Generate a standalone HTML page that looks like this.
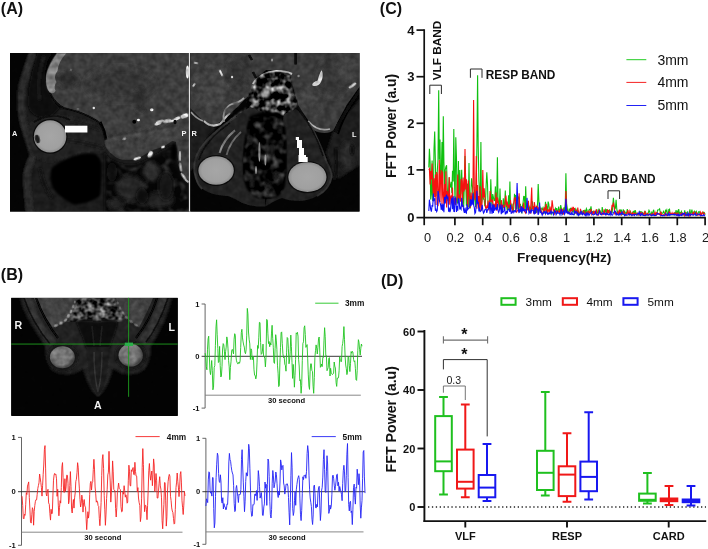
<!DOCTYPE html>
<html><head><meta charset="utf-8"><title>Figure</title>
<style>
html,body{margin:0;padding:0;background:#fff;}
body{width:708px;height:549px;overflow:hidden;}
svg{display:block;font-family:"Liberation Sans", sans-serif;}
.b{font-weight:bold;}
</style></head><body>
<svg width="708" height="549" viewBox="0 0 708 549">
<defs>
<filter id="bl1" x="-20%" y="-20%" width="140%" height="140%"><feGaussianBlur stdDeviation="1"/></filter>
<filter id="bl2" x="-20%" y="-20%" width="140%" height="140%"><feGaussianBlur stdDeviation="2"/></filter>
<filter id="bl3" x="-20%" y="-20%" width="140%" height="140%"><feGaussianBlur stdDeviation="3.5"/></filter>
<filter id="bl05" x="-20%" y="-20%" width="140%" height="140%"><feGaussianBlur stdDeviation="0.6"/></filter>
<filter id="tex" x="0" y="0" width="100%" height="100%" color-interpolation-filters="sRGB"><feTurbulence type="fractalNoise" baseFrequency="0.16" numOctaves="2" seed="5" result="n"/><feColorMatrix in="n" type="matrix" values="1 0 0 0 0  1 0 0 0 0  1 0 0 0 0  0 0 0 0 1" result="ng"/><feComposite in="SourceGraphic" in2="ng" operator="arithmetic" k1="0.7" k2="0.66" k3="0" k4="0"/></filter>
<filter id="blotch" x="0" y="0" width="100%" height="100%" color-interpolation-filters="sRGB"><feTurbulence type="fractalNoise" baseFrequency="0.14" numOctaves="2" seed="14" result="n"/><feColorMatrix in="n" type="matrix" values="2.2 0 0 0 -0.95  2.2 0 0 0 -0.95  2.2 0 0 0 -0.95  0 0 0 0 1" result="c"/><feGaussianBlur in="SourceGraphic" stdDeviation="0.8" result="sb"/><feComposite in="c" in2="sb" operator="in"/></filter>
<filter id="blotch2" x="0" y="0" width="100%" height="100%" color-interpolation-filters="sRGB"><feTurbulence type="fractalNoise" baseFrequency="0.11" numOctaves="2" seed="23" result="n"/><feColorMatrix in="n" type="matrix" values="0.8 0 0 0 -0.35  0.8 0 0 0 -0.35  0.8 0 0 0 -0.35  0 0 0 0 1" result="c"/><feGaussianBlur in="SourceGraphic" stdDeviation="1.2" result="sb"/><feComposite in="c" in2="sb" operator="in"/></filter>
<filter id="blotchB" x="0" y="0" width="100%" height="100%" color-interpolation-filters="sRGB"><feTurbulence type="fractalNoise" baseFrequency="0.16" numOctaves="2" seed="31" result="n"/><feColorMatrix in="n" type="matrix" values="1.5 0 0 0 -0.5  1.5 0 0 0 -0.5  1.5 0 0 0 -0.5  0 0 0 0 1" result="c"/><feGaussianBlur in="SourceGraphic" stdDeviation="0.8" result="sb"/><feComposite in="c" in2="sb" operator="in"/></filter>
<clipPath id="cA1"><rect x="10" y="53" width="179.4" height="158.5"/></clipPath>
<clipPath id="cA2"><rect x="190.5" y="53" width="169" height="158.5"/></clipPath>
<clipPath id="cB"><rect x="11.4" y="298" width="166.3" height="118"/></clipPath>
<radialGradient id="eye" cx="50%" cy="50%" r="50%"><stop offset="0" stop-color="#a6a6a6"/><stop offset="0.8" stop-color="#a0a0a0"/><stop offset="1" stop-color="#8c8c8c"/></radialGradient>
<radialGradient id="eyeB" cx="42%" cy="38%" r="58%"><stop offset="0" stop-color="#7c7c7c"/><stop offset="0.8" stop-color="#6c6c6c"/><stop offset="1" stop-color="#444"/></radialGradient>
</defs>
<rect width="708" height="549" fill="#fff"/>

<text x="0.8" y="14.4" font-size="16" class="b" fill="#111">(A)</text>
<text x="0.8" y="279.8" font-size="16" class="b" fill="#111">(B)</text>
<text x="379.8" y="14.4" font-size="16" class="b" fill="#111">(C)</text>
<text x="381" y="286.2" font-size="16" class="b" fill="#111">(D)</text>
<g id="mriA">
<rect x="10" y="53" width="349.5" height="158.5" fill="#040404"/>
<g clip-path="url(#cA1)"><g filter="url(#tex)">
<rect x="10" y="53" width="180" height="159" fill="#040404"/>
<path d="M29 53 C22 70 16 88 16.5 101 C17 112 19 122 22 130 C26 140 30 148 31 154 C26 162 23 170 23 177 C23 190 25 200 25.6 212 L190 212 L190 112 L60 108 C50 100 40 80 42 53 Z" fill="#1a1a1a" filter="url(#bl1)"/>
<path d="M37 53 C31 72 27 92 28 106 C30 116 40 120 52 116 L60 108 C50 98 44 84 46 70 C47 62 50 57 53 53 Z" fill="#070707" filter="url(#bl1)"/>
<path d="M44 56 C39 72 37 88 40 100" fill="none" stroke="#1c1c1c" stroke-width="3" filter="url(#bl1)"/>
<path d="M33 52 C27 70 21 88 21 101 C21 112 23 122 26 132 C28 140 32 148 33 156 C29 164 27 172 27 180 C27 192 29 202 30 213" fill="none" stroke="#2b2b2b" stroke-width="7" filter="url(#bl1)"/>
<path d="M56.6 53 C50 62 45.7 70 45.7 79 C45.7 86 47 90 49.4 92.3 C52 98 55 103 59.6 106 C66 109 72 110 78.5 111 C86 114 94 119 100 123 C104 127 106 130 106 134 C104 138 104 142 105 145 C107 150 109 152 112 154 C115 157 118 159 122.5 159.8 L134.6 159.8 C140 158 146 154 150 151 C155 149 159 148 163 147 C167 145 170 142 172.7 140.8 L176 142 C176 150 177 156 178 160 C179 168 181 174 184 178 L190 183 L190 53 Z" fill="#3d3d3d" filter="url(#bl05)"/>
<path d="M57 53.5 C51 62 46 71 46 79 C46 85 47.5 90 50 92.5 C52.5 94 55 93 55.5 90.5 C54 88 54.5 85 56.5 82 C54 78 55 74 57.5 71 C58 65 61 59 66 53.5 Z" fill="#7e7e7e" filter="url(#bl05)"/>
<ellipse cx="68" cy="80" rx="10" ry="7" fill="#2c2c2c" filter="url(#bl2)"/>
<ellipse cx="120" cy="84" rx="34" ry="16" fill="#343434" filter="url(#bl3)"/>
<ellipse cx="100" cy="98" rx="6" ry="5" fill="#484848" filter="url(#bl2)"/>
<ellipse cx="140" cy="100" rx="5" ry="12" fill="#2c2c2c" filter="url(#bl2)"/>
<ellipse cx="160" cy="134" rx="24" ry="6" fill="#444" filter="url(#bl2)"/>
<ellipse cx="128" cy="148" rx="16" ry="8" fill="#404040" filter="url(#bl2)"/>
<path d="M100 122 C103 128 105 134 106 140" fill="none" stroke="#060606" stroke-width="3.2" filter="url(#bl05)"/>
<path d="M108 138 C120 134 150 132 176 126" fill="none" stroke="#2a2a2a" stroke-width="2" filter="url(#bl1)"/>
<path d="M50 93 C54 101 58 105 64 108 C72 110 80 112 88 116 C94 119 98 121 101 124" fill="none" stroke="#080808" stroke-width="1.6" filter="url(#bl05)"/>
<ellipse cx="71" cy="70" rx="1.0" ry="1.3" fill="#707070" filter="url(#bl05)" transform="rotate(30 71 70)"/>
<ellipse cx="78" cy="109" rx="1.5" ry="0.8" fill="#707070" filter="url(#bl05)"/>
<ellipse cx="93.8" cy="108" rx="1.2" ry="1.2" fill="#dcdcdc" filter="url(#bl05)"/>
<ellipse cx="151.7" cy="109.8" rx="1.75" ry="1.5" fill="#dcdcdc" filter="url(#bl05)"/>
<ellipse cx="138.5" cy="120" rx="1.5" ry="1.25" fill="#dcdcdc" filter="url(#bl05)"/>
<ellipse cx="158" cy="123.5" rx="3.5" ry="1.5" fill="#dcdcdc" filter="url(#bl05)" transform="rotate(-20 158 123.5)"/>
<ellipse cx="167" cy="121" rx="4.0" ry="1.7" fill="#dcdcdc" filter="url(#bl05)" transform="rotate(-12 167 121)"/>
<ellipse cx="177" cy="118.5" rx="3.5" ry="1.5" fill="#dcdcdc" filter="url(#bl05)" transform="rotate(-25 177 118.5)"/>
<ellipse cx="184.5" cy="116" rx="4.0" ry="2.25" fill="#dcdcdc" filter="url(#bl05)" transform="rotate(-20 184.5 116)"/>
<ellipse cx="187.5" cy="72" rx="1.75" ry="6.5" fill="#dcdcdc" filter="url(#bl05)"/>
<ellipse cx="124.2" cy="138.2" rx="1.75" ry="1.5" fill="#dcdcdc" filter="url(#bl05)" transform="rotate(-30 124.2 138.2)"/>
<ellipse cx="137.2" cy="158.4" rx="3.75" ry="1.2" fill="#dcdcdc" filter="url(#bl05)" transform="rotate(-18 137.2 158.4)"/>
<ellipse cx="150.2" cy="154.6" rx="2.25" ry="3.75" fill="#dcdcdc" filter="url(#bl05)" transform="rotate(25 150.2 154.6)"/>
<ellipse cx="163" cy="147" rx="2.0" ry="1.2" fill="#dcdcdc" filter="url(#bl05)" transform="rotate(-20 163 147)"/>
<ellipse cx="160" cy="121.5" rx="4.0" ry="1.2" fill="#dcdcdc" filter="url(#bl05)" transform="rotate(-15 160 121.5)"/>
<ellipse cx="172" cy="121" rx="3.5" ry="1.2" fill="#dcdcdc" filter="url(#bl05)" transform="rotate(-10 172 121)"/>
<ellipse cx="179.6" cy="157" rx="1.2" ry="5.0" fill="#8c8c8c" filter="url(#bl05)"/>
<ellipse cx="180.5" cy="168" rx="1.2" ry="4.5" fill="#8c8c8c" filter="url(#bl05)" transform="rotate(-10 180.5 168)"/>
<ellipse cx="184" cy="177" rx="1.2" ry="4.0" fill="#8c8c8c" filter="url(#bl05)" transform="rotate(-35 184 177)"/>
<circle cx="134.3" cy="121.7" r="2" fill="#050505" filter="url(#bl05)"/>
<ellipse cx="175" cy="122" rx="1.6" ry="2.2" fill="#0a0a0a"/>
<path d="M30 124 C36 118 50 114 62 116 C76 118 92 122 100 126 C103 132 105 140 104 146 C106 150 108 152 110 154 C100 152 90 152 80 154 C70 158 60 160 50 162 C42 160 34 158 31 154 C28 146 26 136 30 124 Z" fill="#242424" filter="url(#bl1)"/>
<path d="M34 122 C44 115 58 114 70 120" fill="none" stroke="#0c0c0c" stroke-width="1.6" filter="url(#bl05)"/>
<path d="M66 140 C78 142 92 144 104 148" fill="none" stroke="#161616" stroke-width="2" filter="url(#bl1)"/>
<path d="M66 121 C78 122 90 126 100 130" fill="none" stroke="#161616" stroke-width="1.6" filter="url(#bl1)"/>
<circle cx="50.1" cy="136.4" r="17.4" fill="#0b0b0b"/>
<path d="M51.5 168.4 C58 162 70 157 79.2 154.6 C85 153.5 90 153.4 94.8 153.7 C99 156 101 160 101.7 165 C102 176 101 188 100 196 C94 201 84 204 74 204.8 C66 201 58 195 53.3 189 C50 182 50 174 51.5 168.4 Z" fill="#050505" filter="url(#bl1)"/>
<path d="M40 168 C42 180 46 190 52 198" fill="none" stroke="#141414" stroke-width="3" filter="url(#bl1)"/>
<path d="M104 150 C108 160 120 166 136 164 C146 160 156 154 170 146 L176 146 C176 160 180 174 190 184 L190 212 L104 212 Z" fill="#111" filter="url(#bl1)"/>
<path d="M106 156 C112 164 124 168 138 166 C148 162 158 156 172 150 C174 164 178 176 186 186 L190 212 L106 212 Z" fill="#fff" opacity="0.55" filter="url(#blotch2)"/>
<ellipse cx="174" cy="152" rx="3" ry="9" fill="#050505" filter="url(#bl1)"/>
<ellipse cx="152" cy="172" rx="9" ry="9" fill="#2e2e2e" filter="url(#bl2)"/>
<ellipse cx="130" cy="188" rx="14" ry="13" fill="#262626" filter="url(#bl2)"/>
<ellipse cx="160" cy="200" rx="14" ry="8" fill="#222" filter="url(#bl2)"/>
<ellipse cx="116" cy="204" rx="8" ry="6" fill="#202020" filter="url(#bl2)"/>
<ellipse cx="112" cy="172" rx="5" ry="10" fill="#0c0c0c" filter="url(#bl2)"/>
<ellipse cx="142" cy="196" rx="6" ry="8" fill="#0c0c0c" filter="url(#bl2)"/>
<ellipse cx="166" cy="186" rx="8" ry="14" fill="#141414" filter="url(#bl2)"/>
<path d="M178 150 C178 162 181 172 190 182 L190 140 C186 140 180 142 178 150 Z" fill="#3a3a3a" filter="url(#bl05)"/>
<ellipse cx="180" cy="156" rx="1.1" ry="5.0" fill="#b0b0b0" filter="url(#bl05)"/>
<ellipse cx="180.6" cy="167" rx="1.1" ry="4.5" fill="#b0b0b0" filter="url(#bl05)" transform="rotate(-8 180.6 167)"/>
<ellipse cx="183.5" cy="176.5" rx="1.1" ry="4.5" fill="#b0b0b0" filter="url(#bl05)" transform="rotate(-35 183.5 176.5)"/>
<ellipse cx="187" cy="181" rx="1.1" ry="2.5" fill="#b0b0b0" filter="url(#bl05)" transform="rotate(-50 187 181)"/>
<path d="M106 141 C120 136 150 133 176 128" fill="none" stroke="#4a4a4a" stroke-width="3" filter="url(#bl1)"/>
</g>
<circle cx="50.1" cy="136.4" r="16.2" fill="url(#eye)" filter="url(#bl05)"/>
<ellipse cx="37.4" cy="139" rx="2.3" ry="4.2" fill="#1a1a1a" transform="rotate(-14 37.4 139)" filter="url(#bl05)"/>
<rect x="65" y="125.7" width="22.4" height="6.8" fill="#fff"/>
</g>
<g clip-path="url(#cA2)"><g filter="url(#tex)">
<rect x="190" y="53" width="170" height="159" fill="#040404"/>
<path d="M190 104 L206 120 L216 128 C204 140 198 154 196 166 L190 172 Z" fill="#1a1a1a" filter="url(#bl1)"/>
<path d="M334 128 C344 118 352 108 360 98 L360 165 C352 170 346 174 340 178 L333 178 C332 168 328 160 326 152 Z" fill="#1c1c1c" filter="url(#bl1)"/>
<ellipse cx="348" cy="156" rx="7" ry="14" fill="#2c2c2c" filter="url(#bl2)"/>
<path d="M352 104 C346 114 341 124 338 134" fill="none" stroke="#060606" stroke-width="2" filter="url(#bl05)"/>
<path d="M336 148 C338 158 338 170 334 180" fill="none" stroke="#0a0a0a" stroke-width="4" filter="url(#bl1)"/>
<ellipse cx="352" cy="150" rx="2" ry="6" fill="#0a0a0a" filter="url(#bl1)"/>
<path d="M190 53 L360 53 L360 86 L346.6 105 L333.5 130 C330 134 320 134 313 130 L308 120 L300 108 L292 95 L290 72 L266 70 L255 79 L250.6 93.7 L236 108.3 L223 120 L214 125.8 L204 121.4 L190 108 Z" fill="#3b3b3b" filter="url(#bl05)"/>
<path d="M360 90 C352 102 342 116 335 132" fill="none" stroke="#080808" stroke-width="3.5" filter="url(#bl05)"/>
<ellipse cx="212" cy="88" rx="16" ry="20" fill="#424242" filter="url(#bl3)"/>
<ellipse cx="238" cy="72" rx="10" ry="14" fill="#333" filter="url(#bl3)"/>
<ellipse cx="332" cy="78" rx="14" ry="18" fill="#343434" filter="url(#bl3)"/>
<ellipse cx="310" cy="100" rx="10" ry="12" fill="#424242" filter="url(#bl3)"/>
<ellipse cx="346" cy="70" rx="8" ry="10" fill="#444" filter="url(#bl3)"/>
<path d="M256 78 C262 72 276 70 290 74 C292 84 294 94 298 104 L292 112 L284 116 L262 114 L250 108 L246 100 C250 94 254 84 256 78 Z" fill="#080808" filter="url(#bl05)"/>
<path d="M253 84 C258 76 266 72 276 71 C282 71 288 72 292 74" fill="none" stroke="#c8c8c8" stroke-width="2.2" filter="url(#bl05)"/>
<path d="M204 121 C208 125 214 127 220 124 C224 120 226 116 230 113" fill="none" stroke="#b4b4b4" stroke-width="2" filter="url(#bl05)"/>
<path d="M224 122 C222 114 226 106 232 104 C238 103 242 100 244 98" fill="none" stroke="#9a9a9a" stroke-width="1.8" filter="url(#bl05)"/>
<path d="M191 112 C194 116 198 119 203 121" fill="none" stroke="#8a8a8a" stroke-width="1.6" filter="url(#bl05)"/>
<path d="M308 121 C314 128 322 131 330 129" fill="none" stroke="#a0a0a0" stroke-width="1.8" filter="url(#bl05)"/>
<path d="M256 78 C262 72 276 70 290 74 C292 84 294 94 298 104 L292 112 L284 116 L262 114 L250 108 L246 100 C250 94 254 84 256 78 Z" fill="#fff" filter="url(#blotch)"/>
<path d="M250 106 C242 110 234 116 226 124 L232 128 C240 122 248 116 258 112 Z" fill="#fff" filter="url(#blotch)"/>
<ellipse cx="266" cy="93" rx="3.5" ry="4.5" fill="#b0b0b0" filter="url(#bl1)" transform="rotate(20 266 93)"/>
<ellipse cx="268" cy="103" rx="2.5" ry="2.0" fill="#b0b0b0" filter="url(#bl1)"/>
<ellipse cx="228" cy="111" rx="4.0" ry="3.0" fill="#4c4c4c" filter="url(#bl1)"/>
<ellipse cx="236" cy="104" rx="3.0" ry="2.5" fill="#4c4c4c" filter="url(#bl1)"/>
<ellipse cx="221" cy="73" rx="1.0" ry="3.5" fill="#d4d4d4" filter="url(#bl05)" transform="rotate(-25 221 73)"/>
<ellipse cx="232" cy="77" rx="1.2" ry="1.2" fill="#d4d4d4" filter="url(#bl05)"/>
<ellipse cx="194" cy="85" rx="1.0" ry="2.0" fill="#d4d4d4" filter="url(#bl05)" transform="rotate(35 194 85)"/>
<ellipse cx="196" cy="63" rx="2.5" ry="0.8" fill="#d4d4d4" filter="url(#bl05)" transform="rotate(10 196 63)"/>
<ellipse cx="352.5" cy="85.5" rx="4.5" ry="1.2" fill="#d4d4d4" filter="url(#bl05)" transform="rotate(-35 352.5 85.5)"/>
<ellipse cx="298.5" cy="76" rx="1.2" ry="1.2" fill="#8c8c8c" filter="url(#bl05)"/>
<ellipse cx="272" cy="60" rx="1.0" ry="1.5" fill="#8c8c8c" filter="url(#bl05)"/>
<path d="M321.6 70.2 C323.4 73 323 78 321 82 C319.4 85.4 315 87 312.4 85.4 C311.8 83 314.6 81.4 317.6 80.4 C318.8 77 319.4 73 321.6 70.2 Z" fill="#d2d2d2" filter="url(#bl05)"/>
<path d="M249 55 L252 60 M295.6 53 L295.6 64.6" stroke="#080808" stroke-width="2.4" filter="url(#bl05)"/>
<path d="M253 72 L256 78" stroke="#080808" stroke-width="2.4" filter="url(#bl05)"/>
<path d="M262 112 L250 107 C244 110 240 114 236 117 C228 122 222 126 219.6 128.6 C208 138 200 148 197 154.6 C194 162 194 168 194.5 172 C196 180 199 186 202.3 189 C210 194 220 196 228 196 C234 198 238 201 242 203 C250 206 258 207 265 206.5 L266 118 Z" fill="#202020" filter="url(#bl05)"/>
<path d="M284 114 L296 109 C300 112 304 117 308 122 C311 127 313 131 315 134 C320 144 324 154 327 163 C330 168 331.6 172 331.6 177 C330 186 324 192 317 196 C312 199 306 200.5 299.6 201 C292 201 286 200 282 198 C276 200 270 204 265 206.5 Z" fill="#202020" filter="url(#bl05)"/>
<path d="M236 117 C228 122 222 126 219.6 128.6 C208 138 200 148 197 154.6 C194 162 194 168 194.5 172 C196 180 199 186 202.3 189" fill="none" stroke="#303030" stroke-width="2" filter="url(#bl05)"/>
<path d="M308 122 C312 128 314 132 315 134 C320 144 324 154 327 163 C330 168 331.6 172 331.6 177 C330 186 324 192 317 196" fill="none" stroke="#303030" stroke-width="2" filter="url(#bl05)"/>
<path d="M230 123 C214 134 202 148 199 160" fill="none" stroke="#0a0a0a" stroke-width="1.4" filter="url(#bl05)"/>
<path d="M300 112 C310 124 318 140 323 156" fill="none" stroke="#0e0e0e" stroke-width="1.4" filter="url(#bl05)"/>
<path d="M250 116 C246 130 243 150 243 168 C243 182 248 194 258 198 C268 200 278 198 283 190 C287 180 287 150 285 130 C284 122 282 116 278 112 L262 112 Z" fill="#020202" filter="url(#bl1)"/>
<path d="M250 118 C246 130 243 150 243 168 C243 182 248 194 258 198 C268 200 278 198 283 190 C287 180 287 150 285 130 C284 124 282 120 278 116 Z" fill="#fff" filter="url(#blotch2)"/>
<ellipse cx="259.4" cy="152" rx="1.1" ry="10.0" fill="#8a8a8a" filter="url(#bl05)"/>
<ellipse cx="265.4" cy="160" rx="1.0" ry="5.5" fill="#8a8a8a" filter="url(#bl05)"/>
<ellipse cx="256" cy="170" rx="1.0" ry="4.0" fill="#8a8a8a" filter="url(#bl05)"/>
<ellipse cx="250" cy="140" rx="2.0" ry="5.0" fill="#1c1c1c" filter="url(#bl1)"/>
<ellipse cx="272" cy="150" rx="2.5" ry="6.0" fill="#1c1c1c" filter="url(#bl1)"/>
<ellipse cx="276" cy="176" rx="3.0" ry="5.0" fill="#1c1c1c" filter="url(#bl1)"/>
<ellipse cx="252" cy="184" rx="2.5" ry="4.0" fill="#1c1c1c" filter="url(#bl1)"/>
<ellipse cx="268" cy="186" rx="3.0" ry="3.0" fill="#1c1c1c" filter="url(#bl1)"/>
<ellipse cx="280" cy="130" rx="2.0" ry="4.0" fill="#1c1c1c" filter="url(#bl1)"/>
<path d="M235 130.4 C228 136 222 144 219.6 153" fill="none" stroke="#7c7c7c" stroke-width="2" filter="url(#bl05)"/>
<path d="M241 132 C234 138 229 146 226.5 155" fill="none" stroke="#686868" stroke-width="1.8" filter="url(#bl05)"/>
<ellipse cx="216.1" cy="170.5" rx="18.9" ry="15.5" fill="#0c0c0c"/>
<ellipse cx="307.4" cy="177.1" rx="20.3" ry="16.1" fill="#0c0c0c"/>
</g>
<ellipse cx="216.1" cy="170.5" rx="17.7" ry="14.3" fill="url(#eye)" filter="url(#bl05)"/>
<ellipse cx="307.4" cy="177.1" rx="19.1" ry="14.9" fill="url(#eye)" filter="url(#bl05)"/>
<path d="M295.8 137 H299 V140 H302 V148 H304 V155 H306 V157 H307.7 V162 H298.5 V155 H299 V148 H297 V140 H295.8 Z" fill="#fff"/>
</g>
<rect x="188.9" y="53" width="1.2" height="158.5" fill="#e4e4e4"/>
<text x="12" y="136" font-size="7.4" class="b" fill="#f4f4f4">A</text>
<text x="181.5" y="136" font-size="7.4" class="b" fill="#f4f4f4">P</text>
<text x="191.6" y="136" font-size="7.4" class="b" fill="#f4f4f4">R</text>
<text x="352" y="137.4" font-size="7.4" class="b" fill="#f4f4f4">L</text>
</g>
<g id="mriB">
<rect x="11.2" y="297.8" width="166.5" height="117.8" fill="#030303"/>
<g clip-path="url(#cB)"><g filter="url(#tex)">
<rect x="11" y="297" width="167" height="119" fill="#030303"/>
<path d="M20 298 L172 298 C168 316 160 332 151 346 C151 356 149 364 144 370 C136 376 122 376 113 369 C110 380 105 392 98 397 C91 392 86 380 83 369 C74 376 60 376 52 370 C47 364 45 356 45 346 C36 332 24 316 20 298 Z" fill="#212121" filter="url(#bl1)"/>
<ellipse cx="62.4" cy="357.5" rx="15.5" ry="14" fill="#151515" filter="url(#bl1)"/>
<ellipse cx="130.7" cy="355.5" rx="15.5" ry="14" fill="#151515" filter="url(#bl1)"/>
<path d="M27 297 C33 316 43 332 53 343" fill="none" stroke="#323232" stroke-width="7" filter="url(#bl1)"/>
<path d="M164 297 C159 316 151 330 142 342" fill="none" stroke="#323232" stroke-width="7" filter="url(#bl1)"/>
<path d="M34 298 L78 298 C77 302 76 305 74 306.5 C72 312 70 317 68 320 C63 324 58 326 53 327.5 C46 318 39 308 34 298 Z" fill="#424242" filter="url(#bl05)"/>
<path d="M114 298 L153 298 C149 308 144 318 139 327.5 C133 324 127 319 122 314 C119 309 116 303 114 298 Z" fill="#404040" filter="url(#bl05)"/>
<ellipse cx="56" cy="308" rx="9" ry="7" fill="#444" filter="url(#bl2)"/>
<ellipse cx="136" cy="307" rx="9" ry="6" fill="#424242" filter="url(#bl2)"/>
<path d="M76 298 L116 298 C118 306 122 313 126 318 L118 322 C110 318 104 320 97 321 C90 320 84 318 76 322 L66 322 C70 316 74 308 76 298 Z" fill="#2e2e2e" filter="url(#bl05)"/>
<ellipse cx="56" cy="325.5" rx="2.0" ry="1.3" fill="#8e8e8e" filter="url(#bl05)" transform="rotate(-25 56 325.5)"/>
<ellipse cx="61" cy="323" rx="1.8" ry="1.5" fill="#8e8e8e" filter="url(#bl05)" transform="rotate(-30 61 323)"/>
<ellipse cx="65.5" cy="320" rx="2.0" ry="1.3" fill="#8e8e8e" filter="url(#bl05)" transform="rotate(-40 65.5 320)"/>
<ellipse cx="68.5" cy="316" rx="1.5" ry="2.0" fill="#8e8e8e" filter="url(#bl05)" transform="rotate(20 68.5 316)"/>
<ellipse cx="71" cy="311.5" rx="1.3" ry="2.0" fill="#8e8e8e" filter="url(#bl05)" transform="rotate(15 71 311.5)"/>
<ellipse cx="73.5" cy="306.5" rx="1.3" ry="2.0" fill="#8e8e8e" filter="url(#bl05)" transform="rotate(15 73.5 306.5)"/>
<ellipse cx="75" cy="302" rx="1.2" ry="1.5" fill="#8e8e8e" filter="url(#bl05)"/>
<ellipse cx="136" cy="325" rx="2.0" ry="1.3" fill="#767676" filter="url(#bl05)" transform="rotate(30 136 325)"/>
<ellipse cx="131" cy="321.5" rx="1.8" ry="1.3" fill="#767676" filter="url(#bl05)" transform="rotate(35 131 321.5)"/>
<ellipse cx="126.5" cy="317.5" rx="1.7" ry="1.3" fill="#767676" filter="url(#bl05)" transform="rotate(40 126.5 317.5)"/>
<ellipse cx="123" cy="313" rx="1.3" ry="1.8" fill="#767676" filter="url(#bl05)" transform="rotate(-25 123 313)"/>
<ellipse cx="120" cy="308" rx="1.2" ry="1.8" fill="#767676" filter="url(#bl05)" transform="rotate(-20 120 308)"/>
<ellipse cx="117.5" cy="303" rx="1.2" ry="1.5" fill="#767676" filter="url(#bl05)"/>
<path d="M77 298 L115 298 C117 306 121 313 125 318 L118 322 C110 318 104 320 97 321 C90 320 84 318 76 322 L67 322 C71 316 75 308 77 298 Z" fill="#fff" filter="url(#blotchB)"/>
<path d="M36 298 C42 314 50 328 58 338" fill="none" stroke="#070707" stroke-width="2.2" filter="url(#bl05)"/>
<path d="M157 298 C152 314 144 328 136 338" fill="none" stroke="#070707" stroke-width="2.2" filter="url(#bl05)"/>
<path d="M24 298 C30 316 40 332 50 344" fill="none" stroke="#0c0c0c" stroke-width="1.4" filter="url(#bl05)"/>
<path d="M168 298 C162 316 154 332 146 342" fill="none" stroke="#0c0c0c" stroke-width="1.4" filter="url(#bl05)"/>
<path d="M76 322 C84 319 90 321 97 322 C104 321 110 319 118 322 C116 332 112 340 110 348 L86 348 C84 340 80 332 76 322 Z" fill="#0b0b0b" filter="url(#bl1)"/>
<path d="M92 326 L94 346 M102 326 L100 346" stroke="#1e1e1e" stroke-width="1.6" fill="none" filter="url(#bl05)"/>
<path d="M87 347 C86 364 90 388 98 397 C106 388 110 364 109 347 Z" fill="#1f1f1f" filter="url(#bl05)"/>
<path d="M94 352 C94 368 96 384 98 392 M102 352 C102 368 100 384 98 392" stroke="#323232" stroke-width="1.4" fill="none" filter="url(#bl05)"/>
<path d="M98 350 L98 390" stroke="#0a0a0a" stroke-width="1.4" filter="url(#bl05)"/>
<ellipse cx="62.4" cy="357.2" rx="12.5" ry="11" fill="url(#eyeB)" filter="url(#bl05)"/>
<ellipse cx="130.7" cy="355.2" rx="12.2" ry="11.4" fill="url(#eyeB)" filter="url(#bl05)"/>
</g></g>
<rect x="11.2" y="343.6" width="166.5" height="0.9" fill="#1e9e1e"/>
<rect x="128.2" y="297.8" width="0.9" height="99" fill="#1e9e1e"/>
<rect x="124.8" y="342.6" width="8.2" height="3.4" fill="#2bb04b"/>
<text x="14.6" y="329.4" font-size="10.6" class="b" fill="#f2f2f2">R</text>
<text x="168.4" y="331" font-size="10.6" class="b" fill="#f2f2f2">L</text>
<text x="94" y="408.6" font-size="10.6" class="b" fill="#f2f2f2">A</text>
</g>
<path d="M201.6 304 H205.1 V408.1 H201.6" fill="none" stroke="#4a4a4a" stroke-width="0.85"/>
<line x1="201.6" y1="356.3" x2="362" y2="356.3" stroke="#222" stroke-width="0.9"/>
<line x1="205.1" y1="395.2" x2="360.8" y2="395.2" stroke="#7a7a7a" stroke-width="0.9"/>
<polyline points="205.1,353.1 205.7,357.1 206.3,366.6 206.9,369.8 207.5,349.2 208.1,338.8 208.7,336.2 209.3,355.1 209.9,370.5 210.5,374.6 211.1,368.2 211.7,360.5 212.3,370.3 212.9,389.8 213.5,387.2 214.2,367.4 214.8,365.6 215.4,345.7 216.0,326.9 216.6,319.8 217.2,334.8 217.8,348.4 218.4,362.5 219.0,361.7 219.6,346.4 220.2,365.4 220.8,377.0 221.4,376.0 222.0,366.4 222.6,349.0 223.2,343.6 223.8,344.8 224.4,351.1 225.0,359.6 225.6,351.7 226.2,347.2 226.8,336.9 227.4,339.9 228.0,348.8 228.6,360.7 229.2,366.9 229.8,379.7 230.4,367.5 231.0,361.8 231.7,350.4 232.3,349.4 232.9,351.1 233.5,353.9 234.1,339.2 234.7,333.7 235.3,335.2 235.9,356.1 236.5,360.8 237.1,362.5 237.7,363.8 238.3,363.7 238.9,362.1 239.5,363.3 240.1,360.9 240.7,347.3 241.3,332.6 241.9,329.3 242.5,337.9 243.1,341.9 243.7,345.1 244.3,347.1 244.9,352.1 245.5,353.7 246.1,349.9 246.7,335.8 247.3,308.4 247.9,313.8 248.5,332.0 249.2,339.8 249.8,343.9 250.4,359.5 251.0,348.8 251.6,350.3 252.2,359.8 252.8,356.0 253.4,356.7 254.0,369.8 254.6,375.2 255.2,375.4 255.8,378.9 256.4,376.1 257.0,362.9 257.6,345.5 258.2,348.4 258.8,337.2 259.4,322.4 260.0,322.6 260.6,342.4 261.2,354.4 261.8,353.7 262.4,351.2 263.0,344.1 263.6,356.2 264.2,357.0 264.8,358.0 265.4,366.9 266.0,357.5 266.7,319.4 267.3,320.2 267.9,333.8 268.5,343.6 269.1,341.5 269.7,346.7 270.3,342.8 270.9,345.0 271.5,333.1 272.1,325.3 272.7,338.3 273.3,347.3 273.9,362.3 274.5,363.4 275.1,348.5 275.7,334.7 276.3,340.1 276.9,349.5 277.5,365.8 278.1,373.2 278.7,386.6 279.3,385.4 279.9,362.9 280.5,347.6 281.1,332.7 281.7,331.9 282.3,343.7 282.9,353.8 283.6,357.8 284.2,357.1 284.8,364.3 285.4,365.6 286.0,371.2 286.6,352.2 287.2,337.5 287.8,338.5 288.4,348.8 289.0,363.8 289.6,360.0 290.2,351.7 290.8,335.1 291.4,346.6 292.0,362.7 292.6,378.4 293.2,364.4 293.8,374.0 294.4,387.2 295.0,375.5 295.6,359.4 296.2,332.9 296.8,333.7 297.4,332.3 298.0,336.1 298.6,359.4 299.2,366.0 299.8,380.7 300.4,379.7 301.1,393.3 301.7,385.5 302.3,360.5 302.9,343.5 303.5,341.8 304.1,327.8 304.7,325.8 305.3,334.6 305.9,347.4 306.5,345.9 307.1,344.6 307.7,358.8 308.3,374.9 308.9,386.0 309.5,389.4 310.1,371.8 310.7,363.8 311.3,363.8 311.9,370.4 312.5,371.7 313.1,386.2 313.7,393.3 314.3,377.5 314.9,357.2 315.5,350.7 316.1,344.9 316.7,348.2 317.3,354.0 317.9,347.4 318.6,338.2 319.2,337.0 319.8,352.2 320.4,367.3 321.0,366.2 321.6,364.0 322.2,366.6 322.8,357.4 323.4,357.5 324.0,340.1 324.6,327.7 325.2,336.3 325.8,355.7 326.4,355.7 327.0,370.7 327.6,369.2 328.2,367.5 328.8,358.4 329.4,357.6 330.0,376.0 330.6,368.3 331.2,372.3 331.8,373.8 332.4,374.6 333.0,373.9 333.6,373.3 334.2,362.0 334.8,366.2 335.4,367.9 336.1,382.7 336.7,386.4 337.3,378.0 337.9,378.0 338.5,377.8 339.1,370.8 339.7,356.9 340.3,360.3 340.9,361.7 341.5,361.5 342.1,346.6 342.7,343.4 343.3,337.9 343.9,326.6 344.5,339.7 345.1,356.1 345.7,365.0 346.3,368.6 346.9,374.6 347.5,372.1 348.1,356.3 348.7,357.1 349.3,365.7 349.9,371.6 350.5,363.3 351.1,351.6 351.7,353.2 352.3,351.3 352.9,352.3 353.6,359.6 354.2,361.7 354.8,360.8 355.4,368.5 356.0,379.7 356.6,380.4 357.2,370.7 357.8,350.3 358.4,339.7 359.0,342.3 359.6,349.8 360.2,355.1 360.8,348.4 361.4,344.0 362.0,346.2" fill="none" stroke="#1fc41f" stroke-width="0.9" stroke-linejoin="round"/>
<text x="199.4" y="306.7" font-size="7.6" class="b" text-anchor="end" fill="#111">1</text>
<text x="199.4" y="359.0" font-size="7.6" class="b" text-anchor="end" fill="#111">0</text>
<text x="199.4" y="410.8" font-size="7.6" class="b" text-anchor="end" fill="#111">-1</text>
<text x="286.5" y="402.7" font-size="7.6" class="b" text-anchor="middle" fill="#111">30 second</text>
<line x1="315.2" y1="303.2" x2="338.5" y2="303.2" stroke="#1fc41f" stroke-width="0.9"/>
<text x="345.0" y="306.2" font-size="8.3" class="b" fill="#111">3mm</text>
<path d="M18.0 437.4 H21.5 V545.3 H18.0" fill="none" stroke="#4a4a4a" stroke-width="0.85"/>
<line x1="18.0" y1="491.7" x2="184.6" y2="491.7" stroke="#222" stroke-width="0.9"/>
<line x1="21.5" y1="532.2" x2="182.5" y2="532.2" stroke="#7a7a7a" stroke-width="0.9"/>
<polyline points="21.5,495.9 22.1,496.7 22.7,505.5 23.3,518.4 23.9,519.0 24.5,514.3 25.1,515.3 25.7,504.8 26.3,492.7 26.9,494.5 27.5,486.1 28.1,484.1 28.7,481.9 29.3,497.4 29.9,509.0 30.5,521.9 31.2,523.1 31.8,514.8 32.4,507.7 33.0,509.7 33.6,525.2 34.2,511.5 34.8,505.5 35.4,501.3 36.0,499.6 36.6,499.8 37.2,494.4 37.8,488.5 38.4,485.6 39.0,482.8 39.6,474.0 40.2,477.8 40.8,482.4 41.4,487.4 42.0,496.1 42.6,485.4 43.2,474.3 43.8,464.0 44.4,449.5 45.0,445.6 45.6,468.1 46.2,494.0 46.8,496.0 47.4,490.9 48.0,489.3 48.6,502.9 49.3,504.4 49.9,513.6 50.5,520.1 51.1,509.3 51.7,513.9 52.3,513.2 52.9,495.9 53.5,480.2 54.1,475.0 54.7,473.4 55.3,475.0 55.9,474.4 56.5,478.8 57.1,496.3 57.7,489.3 58.3,505.2 58.9,515.8 59.5,507.7 60.1,500.7 60.7,503.1 61.3,487.4 61.9,467.1 62.5,462.6 63.1,477.8 63.7,492.1 64.3,492.5 64.9,478.7 65.5,491.3 66.1,486.9 66.7,475.2 67.4,475.3 68.0,483.2 68.6,503.8 69.2,500.7 69.8,485.5 70.4,471.6 71.0,486.7 71.6,509.7 72.2,513.0 72.8,505.1 73.4,499.5 74.0,508.1 74.6,497.8 75.2,493.0 75.8,481.4 76.4,479.3 77.0,472.7 77.6,462.7 78.2,467.2 78.8,480.0 79.4,488.9 80.0,499.7 80.6,507.0 81.2,503.6 81.8,495.1 82.4,498.6 83.0,512.1 83.6,502.7 84.2,499.5 84.8,506.0 85.5,507.2 86.1,518.2 86.7,529.7 87.3,519.5 87.9,511.7 88.5,518.1 89.1,513.0 89.7,494.6 90.3,483.6 90.9,481.4 91.5,490.1 92.1,482.9 92.7,481.7 93.3,469.6 93.9,459.3 94.5,469.1 95.1,487.0 95.7,493.7 96.3,502.2 96.9,500.8 97.5,501.6 98.1,505.6 98.7,506.3 99.3,518.4 99.9,525.7 100.5,515.0 101.1,502.4 101.7,475.7 102.3,459.1 102.9,454.6 103.6,468.7 104.2,495.5 104.8,509.8 105.4,525.3 106.0,514.1 106.6,498.5 107.2,489.2 107.8,474.9 108.4,472.2 109.0,451.3 109.6,471.0 110.2,481.0 110.8,502.1 111.4,492.6 112.0,480.8 112.6,460.9 113.2,471.8 113.8,489.6 114.4,490.0 115.0,491.0 115.6,508.4 116.2,517.0 116.8,507.5 117.4,492.8 118.0,487.8 118.6,483.1 119.2,488.4 119.8,489.2 120.4,489.6 121.0,506.8 121.7,511.9 122.3,511.3 122.9,492.1 123.5,494.2 124.1,485.7 124.7,490.6 125.3,497.2 125.9,494.8 126.5,496.7 127.1,503.2 127.7,502.2 128.3,480.8 128.9,465.2 129.5,471.2 130.1,485.6 130.7,486.0 131.3,469.8 131.9,471.5 132.5,469.0 133.1,467.5 133.7,474.4 134.3,474.8 134.9,462.3 135.5,471.6 136.1,476.1 136.7,476.2 137.3,492.0 137.9,487.6 138.5,498.0 139.1,502.4 139.8,505.5 140.4,521.6 141.0,516.8 141.6,498.2 142.2,467.7 142.8,448.6 143.4,464.6 144.0,495.9 144.6,511.7 145.2,505.4 145.8,505.3 146.4,509.2 147.0,519.7 147.6,505.4 148.2,490.2 148.8,470.7 149.4,463.5 150.0,474.0 150.6,480.2 151.2,475.5 151.8,471.0 152.4,485.7 153.0,474.6 153.6,458.9 154.2,465.0 154.8,491.6 155.4,483.0 156.0,473.5 156.6,480.2 157.2,498.0 157.9,498.1 158.5,490.9 159.1,483.2 159.7,476.7 160.3,485.9 160.9,489.1 161.5,497.8 162.1,520.6 162.7,528.8 163.3,515.0 163.9,504.5 164.5,482.6 165.1,482.7 165.7,500.9 166.3,526.1 166.9,516.8 167.5,491.1 168.1,481.7 168.7,477.0 169.3,474.4 169.9,476.2 170.5,496.3 171.1,500.6 171.7,507.9 172.3,511.0 172.9,512.5 173.5,518.5 174.1,524.1 174.7,523.4 175.3,509.6 176.0,487.5 176.6,482.1 177.2,473.0 177.8,481.4 178.4,487.1 179.0,496.6 179.6,489.6 180.2,474.4 180.8,471.6 181.4,482.1 182.0,500.8 182.6,507.7 183.2,514.5 183.8,505.2 184.4,491.4 185.0,495.9" fill="none" stroke="#f52424" stroke-width="0.9" stroke-linejoin="round"/>
<text x="15.8" y="440.09999999999997" font-size="7.6" class="b" text-anchor="end" fill="#111">1</text>
<text x="15.8" y="494.4" font-size="7.6" class="b" text-anchor="end" fill="#111">0</text>
<text x="15.8" y="548.0" font-size="7.6" class="b" text-anchor="end" fill="#111">-1</text>
<text x="102.8" y="540.0" font-size="7.6" class="b" text-anchor="middle" fill="#111">30 second</text>
<line x1="135.5" y1="436.6" x2="159.7" y2="436.6" stroke="#f52424" stroke-width="0.9"/>
<text x="166.8" y="439.6" font-size="8.3" class="b" fill="#111">4mm</text>
<path d="M202.4 438.3 H205.9 V544.3 H202.4" fill="none" stroke="#4a4a4a" stroke-width="0.85"/>
<line x1="202.4" y1="491.7" x2="364.8" y2="491.7" stroke="#222" stroke-width="0.9"/>
<line x1="205.9" y1="531.9" x2="363.5" y2="531.9" stroke="#7a7a7a" stroke-width="0.9"/>
<polyline points="205.9,506.0 206.5,498.8 207.1,500.2 207.7,502.6 208.3,479.9 208.9,471.8 209.5,472.6 210.1,490.6 210.7,493.2 211.3,492.2 211.9,496.1 212.5,477.6 213.1,477.6 213.7,508.3 214.3,527.8 214.9,522.9 215.5,496.6 216.1,477.7 216.7,464.2 217.4,453.2 218.0,455.8 218.6,473.5 219.2,481.2 219.8,482.5 220.4,474.8 221.0,482.1 221.6,501.6 222.2,503.1 222.8,497.7 223.4,509.0 224.0,503.6 224.6,506.7 225.2,506.8 225.8,509.9 226.4,509.3 227.0,503.9 227.6,504.3 228.2,491.3 228.8,463.0 229.4,453.4 230.0,459.7 230.6,461.3 231.2,466.5 231.8,470.8 232.4,473.0 233.0,474.9 233.6,485.3 234.2,503.4 234.8,511.6 235.4,510.7 236.0,488.3 236.6,485.5 237.2,490.9 237.8,496.7 238.4,502.5 239.0,494.1 239.6,494.7 240.3,494.4 240.9,489.3 241.5,459.5 242.1,449.7 242.7,467.0 243.3,482.1 243.9,496.3 244.5,511.7 245.1,501.8 245.7,481.5 246.3,472.7 246.9,475.8 247.5,475.8 248.1,461.1 248.7,444.3 249.3,448.7 249.9,468.8 250.5,490.2 251.1,510.6 251.7,516.4 252.3,515.9 252.9,504.5 253.5,504.8 254.1,504.4 254.7,494.2 255.3,494.0 255.9,495.8 256.5,490.6 257.1,500.4 257.7,490.2 258.3,470.6 258.9,476.2 259.5,486.3 260.1,498.1 260.7,495.3 261.3,492.5 261.9,499.7 262.5,515.2 263.2,515.5 263.8,506.9 264.4,503.9 265.0,482.0 265.6,488.2 266.2,484.3 266.8,505.4 267.4,484.7 268.0,459.0 268.6,461.1 269.2,476.6 269.8,501.3 270.4,514.5 271.0,518.0 271.6,509.4 272.2,483.3 272.8,470.5 273.4,475.9 274.0,487.8 274.6,484.6 275.2,481.0 275.8,472.0 276.4,474.7 277.0,483.3 277.6,494.1 278.2,497.5 278.8,491.2 279.4,495.1 280.0,482.0 280.6,459.9 281.2,463.2 281.8,469.9 282.4,466.0 283.0,465.4 283.6,483.0 284.2,485.9 284.8,494.1 285.4,490.5 286.1,484.1 286.7,484.2 287.3,483.8 287.9,486.3 288.5,497.5 289.1,512.8 289.7,524.9 290.3,502.4 290.9,475.8 291.5,452.6 292.1,467.8 292.7,508.6 293.3,515.5 293.9,512.0 294.5,500.4 295.1,491.3 295.7,505.3 296.3,489.8 296.9,484.6 297.5,480.1 298.1,477.5 298.7,475.7 299.3,479.4 299.9,498.9 300.5,514.8 301.1,520.6 301.7,510.6 302.3,493.3 302.9,476.8 303.5,479.6 304.1,475.5 304.7,476.1 305.3,474.8 305.9,478.3 306.5,471.4 307.1,453.6 307.7,445.6 308.4,452.0 309.0,475.2 309.6,489.8 310.2,498.0 310.8,502.3 311.4,506.5 312.0,519.4 312.6,524.5 313.2,514.9 313.8,486.2 314.4,485.1 315.0,493.5 315.6,507.7 316.2,508.0 316.8,504.3 317.4,506.8 318.0,492.0 318.6,488.0 319.2,486.3 319.8,505.8 320.4,520.5 321.0,512.0 321.6,490.2 322.2,487.4 322.8,477.1 323.4,459.5 324.0,449.7 324.6,469.5 325.2,491.9 325.8,492.5 326.4,471.8 327.0,455.7 327.6,464.0 328.2,490.9 328.8,513.4 329.4,511.2 330.0,505.1 330.6,509.1 331.3,505.9 331.9,494.2 332.5,475.8 333.1,475.1 333.7,478.8 334.3,485.8 334.9,490.3 335.5,486.3 336.1,481.0 336.7,474.7 337.3,474.1 337.9,485.8 338.5,482.3 339.1,491.4 339.7,486.5 340.3,489.1 340.9,491.4 341.5,494.3 342.1,500.7 342.7,483.5 343.3,470.8 343.9,465.3 344.5,471.9 345.1,492.1 345.7,490.6 346.3,475.6 346.9,454.2 347.5,443.5 348.1,477.5 348.7,504.5 349.3,510.9 349.9,502.3 350.5,501.3 351.1,512.5 351.7,511.1 352.3,524.6 352.9,509.8 353.5,487.7 354.2,484.1 354.8,497.7 355.4,504.1 356.0,487.3 356.6,488.2 357.2,469.2 357.8,477.1 358.4,484.7 359.0,473.7 359.6,481.0 360.2,504.9 360.8,518.2 361.4,507.9 362.0,500.6 362.6,478.7 363.2,452.0 363.8,450.5 364.4,476.9 365.0,493.1" fill="none" stroke="#2424f5" stroke-width="0.9" stroke-linejoin="round"/>
<text x="200.20000000000002" y="441.0" font-size="7.6" class="b" text-anchor="end" fill="#111">1</text>
<text x="200.20000000000002" y="494.4" font-size="7.6" class="b" text-anchor="end" fill="#111">0</text>
<text x="200.20000000000002" y="547.0" font-size="7.6" class="b" text-anchor="end" fill="#111">-1</text>
<text x="287" y="539.7" font-size="7.6" class="b" text-anchor="middle" fill="#111">30 second</text>
<line x1="311.7" y1="436.6" x2="335.8" y2="436.6" stroke="#2424f5" stroke-width="0.9"/>
<text x="342.6" y="439.6" font-size="8.3" class="b" fill="#111">5mm</text>
<polyline points="428.8,167.6 429.4,148.7 430.1,162.1 430.7,199.6 431.4,194.1 432.1,160.6 432.7,201.1 433.4,199.3 434.0,148.9 434.7,131.4 435.4,162.7 436.0,195.9 436.7,180.9 437.3,171.0 438.0,159.7 438.7,90.2 439.3,159.7 440.0,139.6 440.6,184.0 441.3,172.4 442.0,142.0 442.6,186.4 443.3,116.3 443.9,161.8 444.6,184.9 445.3,169.6 445.9,166.9 446.6,165.2 447.2,186.1 447.9,200.9 448.6,190.4 449.2,177.5 449.9,186.8 450.5,187.0 451.2,181.9 451.9,192.9 452.5,170.8 453.2,181.5 453.8,128.9 454.5,181.5 455.1,202.8 455.8,137.3 456.5,159.0 457.1,202.1 457.8,203.6 458.4,161.0 459.1,198.9 459.8,169.9 460.4,198.3 461.1,184.7 461.7,169.8 462.4,193.9 463.1,185.3 463.7,207.1 464.4,182.1 465.0,155.9 465.7,179.7 466.4,205.8 467.0,187.4 467.7,183.7 468.3,207.3 469.0,162.9 469.7,205.7 470.3,208.4 471.0,190.4 471.6,178.2 472.3,185.1 473.0,192.1 473.6,204.9 474.3,192.1 474.9,193.8 475.6,207.1 476.3,183.6 476.9,145.9 477.6,75.3 478.2,145.9 478.9,180.7 479.5,191.2 480.2,201.9 480.9,141.9 481.5,205.0 482.2,193.9 482.8,195.8 483.5,199.2 484.2,199.6 484.8,206.3 485.5,201.3 486.1,186.0 486.8,172.2 487.5,183.7 488.1,208.1 488.8,208.3 489.4,203.9 490.1,207.6 490.8,179.2 491.4,197.1 492.1,206.1 492.7,194.0 493.4,197.4 494.1,200.7 494.7,200.6 495.4,186.4 496.0,208.3 496.7,198.7 497.4,157.3 498.0,198.7 498.7,202.5 499.3,207.6 500.0,188.5 500.7,208.7 501.3,206.3 502.0,208.6 502.6,211.1 503.3,198.2 504.0,207.5 504.6,205.1 505.3,190.6 505.9,206.3 506.6,205.4 507.2,210.5 507.9,208.0 508.6,195.2 509.2,210.5 509.9,181.6 510.5,206.1 511.2,208.9 511.9,203.6 512.5,208.0 513.2,211.9 513.8,207.7 514.5,193.8 515.2,200.9 515.8,195.0 516.5,208.9 517.1,208.8 517.8,199.2 518.5,197.2 519.1,198.0 519.8,210.0 520.4,203.9 521.1,211.8 521.8,212.7 522.4,206.1 523.1,202.5 523.7,196.5 524.4,196.7 525.1,210.9 525.7,186.2 526.4,209.1 527.0,203.3 527.7,207.7 528.4,208.2 529.0,205.6 529.7,212.5 530.3,206.9 531.0,210.9 531.7,208.0 532.3,201.4 533.0,209.2 533.6,206.2 534.3,213.4 534.9,209.2 535.6,207.4 536.3,212.8 536.9,210.7 537.6,202.7 538.2,183.9 538.9,201.3 539.6,210.0 540.2,212.5 540.9,207.8 541.5,208.9 542.2,209.4 542.9,207.8 543.5,212.5 544.2,213.0 544.8,209.6 545.5,201.9 546.2,212.5 546.8,206.4 547.5,212.1 548.1,201.6 548.8,204.0 549.5,211.7 550.1,210.4 550.8,209.2 551.4,214.0 552.1,212.8 552.8,212.3 553.4,213.3 554.1,211.2 554.7,211.2 555.4,208.3 556.1,210.0 556.7,208.2 557.4,213.1 558.0,211.0 558.7,206.6 559.3,210.7 560.0,213.8 560.7,205.0 561.3,208.2 562.0,212.5 562.6,213.7 563.3,209.9 564.0,207.4 564.6,211.0 565.3,203.5 565.9,173.2 566.6,203.5 567.3,208.5 567.9,212.9 568.6,213.2 569.2,208.6 569.9,211.4 570.6,207.9 571.2,210.7 571.9,208.2 572.5,212.2 573.2,208.7 573.9,212.2 574.5,213.9 575.2,210.9 575.8,208.9 576.5,210.4 577.2,213.8 577.8,212.6 578.5,211.3 579.1,212.5 579.8,214.1 580.5,212.0 581.1,212.3 581.8,211.9 582.4,214.6 583.1,210.8 583.8,210.7 584.4,213.6 585.1,209.7 585.7,214.6 586.4,208.6 587.0,209.8 587.7,213.9 588.4,214.1 589.0,209.7 589.7,209.2 590.3,210.3 591.0,206.3 591.7,211.9 592.3,211.8 593.0,211.4 593.6,211.2 594.3,214.7 595.0,210.9 595.6,213.3 596.3,213.6 596.9,209.3 597.6,213.0 598.3,213.1 598.9,208.6 599.6,210.5 600.2,210.8 600.9,214.5 601.6,214.5 602.2,207.0 602.9,211.6 603.5,211.9 604.2,212.0 604.9,212.5 605.5,209.9 606.2,212.0 606.8,209.1 607.5,214.6 608.2,212.5 608.8,212.3 609.5,209.3 610.1,212.6 610.8,213.1 611.5,210.6 612.1,213.1 612.8,205.3 613.4,197.9 614.1,205.3 614.7,209.4 615.4,208.1 616.1,199.7 616.7,208.1 617.4,213.7 618.0,211.9 618.7,214.4 619.4,212.8 620.0,209.5 620.7,212.2 621.3,209.7 622.0,214.6 622.7,213.7 623.3,209.2 624.0,214.6 624.6,210.9 625.3,213.1 626.0,212.9 626.6,213.4 627.3,209.1 627.9,213.1 628.6,213.1 629.3,214.6 629.9,213.1 630.6,211.7 631.2,214.5 631.9,213.2 632.6,213.6 633.2,211.9 633.9,211.3 634.5,214.8 635.2,210.2 635.9,212.6 636.5,213.2 637.2,214.7 637.8,214.1 638.5,214.9 639.1,214.3 639.8,211.0 640.5,214.2 641.1,211.7 641.8,212.0 642.4,212.2 643.1,215.0 643.8,213.7 644.4,212.1 645.1,214.5 645.7,212.5 646.4,214.2 647.1,215.1 647.7,213.9 648.4,212.5 649.0,210.2 649.7,211.6 650.4,214.7 651.0,214.9 651.7,212.5 652.3,214.1 653.0,211.7 653.7,209.8 654.3,214.7 655.0,214.4 655.6,214.6 656.3,214.8 657.0,213.0 657.6,210.0 658.3,210.0 658.9,209.6 659.6,208.9 660.3,212.7 660.9,212.3 661.6,212.9 662.2,213.4 662.9,212.8 663.6,211.4 664.2,213.3 664.9,214.3 665.5,210.5 666.2,211.5 666.8,210.0 667.5,214.0 668.2,214.8 668.8,209.6 669.5,209.2 670.1,213.8 670.8,214.7 671.5,214.7 672.1,214.8 672.8,214.8 673.4,214.1 674.1,215.0 674.8,212.8 675.4,213.3 676.1,210.1 676.7,215.1 677.4,211.7 678.1,213.8 678.7,209.1 679.4,213.5 680.0,212.7 680.7,213.0 681.4,211.5 682.0,214.1 682.7,213.2 683.3,214.0 684.0,215.1 684.7,210.4 685.3,213.9 686.0,214.5 686.6,212.8 687.3,211.9 688.0,215.2 688.6,214.1 689.3,213.1 689.9,209.3 690.6,214.5 691.3,212.8 691.9,209.5 692.6,213.0 693.2,212.8 693.9,214.4 694.5,211.1 695.2,211.6 695.9,213.9 696.5,211.9 697.2,214.8 697.8,213.9 698.5,212.0 699.2,211.6 699.8,212.9 700.5,213.2 701.1,214.7 701.8,213.0 702.5,212.8 703.1,213.0 703.8,212.1 704.4,212.7 705.1,214.9" fill="none" stroke="#10c010" stroke-width="1.1" stroke-linejoin="miter"/>
<polyline points="428.8,169.9 429.4,168.9 430.1,184.5 430.7,170.9 431.4,179.4 432.1,163.5 432.7,184.1 433.4,195.9 434.0,178.2 434.7,197.0 435.4,174.6 436.0,205.1 436.7,172.0 437.3,174.6 438.0,206.1 438.7,191.7 439.3,160.0 440.0,201.9 440.6,177.6 441.3,169.9 442.0,204.2 442.6,171.5 443.3,195.8 443.9,204.6 444.6,184.0 445.3,201.9 445.9,171.3 446.6,207.6 447.2,190.9 447.9,195.7 448.6,204.6 449.2,176.9 449.9,204.8 450.5,198.0 451.2,195.4 451.9,200.5 452.5,187.5 453.2,208.1 453.8,204.3 454.5,198.1 455.1,204.2 455.8,204.4 456.5,200.1 457.1,194.1 457.8,174.6 458.4,198.9 459.1,194.3 459.8,197.7 460.4,201.7 461.1,179.0 461.7,180.9 462.4,206.9 463.1,177.4 463.7,191.7 464.4,189.5 465.0,148.9 465.7,189.5 466.4,179.3 467.0,192.1 467.7,209.7 468.3,180.4 469.0,195.6 469.7,196.0 470.3,207.7 471.0,192.5 471.6,198.0 472.3,201.6 473.0,187.4 473.6,100.0 474.3,187.4 474.9,200.2 475.6,196.4 476.3,155.9 476.9,208.7 477.6,185.1 478.2,204.5 478.9,195.9 479.5,209.8 480.2,186.3 480.9,209.6 481.5,210.0 482.2,199.4 482.8,169.9 483.5,197.7 484.2,188.2 484.8,197.9 485.5,207.3 486.1,208.9 486.8,206.4 487.5,208.0 488.1,200.5 488.8,210.4 489.4,206.8 490.1,190.9 490.8,201.2 491.4,200.9 492.1,201.8 492.7,199.3 493.4,209.2 494.1,203.7 494.7,206.3 495.4,207.4 496.0,192.4 496.7,210.7 497.4,197.3 498.0,201.3 498.7,203.9 499.3,207.2 500.0,206.2 500.7,209.5 501.3,200.0 502.0,206.1 502.6,205.5 503.3,206.9 504.0,205.0 504.6,209.9 505.3,199.9 505.9,195.5 506.6,205.5 507.2,201.5 507.9,207.6 508.6,206.4 509.2,204.5 509.9,211.6 510.5,200.1 511.2,207.3 511.9,207.5 512.5,212.8 513.2,204.8 513.8,203.0 514.5,197.7 515.2,197.9 515.8,210.6 516.5,212.1 517.1,211.2 517.8,210.5 518.5,208.5 519.1,193.2 519.8,207.2 520.4,208.2 521.1,207.0 521.8,209.1 522.4,207.9 523.1,209.3 523.7,202.6 524.4,211.1 525.1,212.3 525.7,213.2 526.4,210.6 527.0,207.2 527.7,210.3 528.4,200.8 529.0,208.7 529.7,212.6 530.3,213.0 531.0,202.6 531.7,187.6 532.3,209.1 533.0,207.7 533.6,213.5 534.3,202.0 534.9,205.8 535.6,213.1 536.3,206.7 536.9,206.1 537.6,208.3 538.2,213.8 538.9,207.1 539.6,209.5 540.2,208.7 540.9,208.9 541.5,211.9 542.2,213.8 542.9,214.0 543.5,209.7 544.2,207.3 544.8,212.3 545.5,207.1 546.2,203.8 546.8,210.5 547.5,213.3 548.1,209.6 548.8,210.1 549.5,212.5 550.1,206.5 550.8,213.6 551.4,210.2 552.1,200.2 552.8,205.9 553.4,211.3 554.1,209.0 554.7,213.9 555.4,212.8 556.1,211.2 556.7,212.1 557.4,211.0 558.0,211.7 558.7,211.5 559.3,212.8 560.0,209.0 560.7,211.7 561.3,213.8 562.0,208.9 562.6,209.8 563.3,214.0 564.0,213.2 564.6,211.6 565.3,208.8 565.9,190.9 566.6,208.8 567.3,212.4 567.9,213.1 568.6,212.2 569.2,212.2 569.9,212.9 570.6,209.8 571.2,210.6 571.9,208.5 572.5,211.5 573.2,206.9 573.9,209.0 574.5,208.7 575.2,213.6 575.8,210.1 576.5,213.1 577.2,213.6 577.8,207.6 578.5,213.8 579.1,214.3 579.8,214.3 580.5,208.8 581.1,211.5 581.8,212.6 582.4,214.3 583.1,213.9 583.8,210.4 584.4,213.7 585.1,214.3 585.7,215.0 586.4,211.6 587.0,215.0 587.7,212.6 588.4,211.2 589.0,211.1 589.7,213.1 590.3,212.4 591.0,209.1 591.7,214.2 592.3,212.7 593.0,213.1 593.6,210.9 594.3,214.4 595.0,211.8 595.6,212.8 596.3,209.4 596.9,214.7 597.6,214.2 598.3,215.0 598.9,210.4 599.6,210.2 600.2,213.0 600.9,214.0 601.6,213.1 602.2,213.5 602.9,214.6 603.5,214.1 604.2,209.4 604.9,213.4 605.5,213.8 606.2,214.7 606.8,213.3 607.5,209.3 608.2,212.9 608.8,210.1 609.5,214.3 610.1,214.3 610.8,213.5 611.5,209.5 612.1,204.8 612.8,206.7 613.4,202.5 614.1,206.7 614.7,214.0 615.4,214.0 616.1,212.8 616.7,214.2 617.4,214.1 618.0,212.2 618.7,214.6 619.4,209.7 620.0,214.2 620.7,211.8 621.3,214.8 622.0,213.8 622.7,212.4 623.3,212.4 624.0,211.3 624.6,214.1 625.3,214.8 626.0,215.0 626.6,213.3 627.3,213.1 627.9,210.2 628.6,214.7 629.3,214.2 629.9,211.0 630.6,212.8 631.2,213.6 631.9,214.9 632.6,212.8 633.2,214.9 633.9,213.6 634.5,214.0 635.2,212.9 635.9,214.0 636.5,214.7 637.2,214.9 637.8,213.0 638.5,213.7 639.1,215.2 639.8,214.5 640.5,213.0 641.1,214.0 641.8,212.7 642.4,213.0 643.1,213.3 643.8,214.9 644.4,214.0 645.1,210.9 645.7,215.1 646.4,214.8 647.1,213.9 647.7,213.3 648.4,214.6 649.0,214.5 649.7,214.9 650.4,214.9 651.0,214.9 651.7,213.9 652.3,213.5 653.0,214.4 653.7,214.0 654.3,214.5 655.0,212.3 655.6,214.7 656.3,213.0 657.0,212.6 657.6,214.3 658.3,213.8 658.9,214.1 659.6,213.5 660.3,215.2 660.9,211.7 661.6,214.8 662.2,215.2 662.9,214.9 663.6,214.6 664.2,215.5 664.9,215.0 665.5,212.9 666.2,215.5 666.8,215.1 667.5,214.4 668.2,214.2 668.8,212.6 669.5,211.7 670.1,213.0 670.8,214.0 671.5,214.5 672.1,212.8 672.8,214.4 673.4,214.1 674.1,212.8 674.8,213.4 675.4,213.2 676.1,212.9 676.7,215.1 677.4,215.5 678.1,212.6 678.7,215.4 679.4,215.1 680.0,215.0 680.7,213.7 681.4,214.8 682.0,213.1 682.7,214.9 683.3,214.8 684.0,214.2 684.7,215.5 685.3,212.2 686.0,214.8 686.6,215.1 687.3,215.5 688.0,214.4 688.6,214.0 689.3,215.6 689.9,213.3 690.6,215.4 691.3,214.2 691.9,214.2 692.6,213.2 693.2,215.2 693.9,211.4 694.5,213.8 695.2,214.3 695.9,213.4 696.5,212.7 697.2,215.2 697.8,214.3 698.5,215.0 699.2,214.3 699.8,214.9 700.5,212.3 701.1,214.6 701.8,214.5 702.5,212.2 703.1,213.0 703.8,214.4 704.4,213.2 705.1,212.9" fill="none" stroke="#f81010" stroke-width="1.1" stroke-linejoin="miter"/>
<polyline points="428.8,211.0 429.4,199.7 430.1,204.6 430.7,209.5 431.4,211.7 432.1,205.1 432.7,206.6 433.4,193.5 434.0,199.7 434.7,198.2 435.4,210.7 436.0,209.4 436.7,211.6 437.3,210.2 438.0,190.9 438.7,194.4 439.3,199.8 440.0,202.7 440.6,204.8 441.3,209.8 442.0,203.5 442.6,210.6 443.3,204.2 443.9,212.3 444.6,196.9 445.3,203.5 445.9,196.9 446.6,194.7 447.2,199.2 447.9,196.6 448.6,211.6 449.2,207.5 449.9,212.2 450.5,210.1 451.2,200.9 451.9,197.9 452.5,209.3 453.2,196.2 453.8,211.3 454.5,211.5 455.1,197.5 455.8,198.7 456.5,212.0 457.1,206.1 457.8,210.7 458.4,198.8 459.1,199.1 459.8,209.4 460.4,207.7 461.1,209.1 461.7,197.9 462.4,205.9 463.1,205.6 463.7,210.3 464.4,212.9 465.0,207.6 465.7,212.4 466.4,213.1 467.0,204.3 467.7,209.4 468.3,208.3 469.0,208.2 469.7,206.6 470.3,199.4 471.0,206.1 471.6,199.6 472.3,204.8 473.0,193.2 473.6,204.8 474.3,207.5 474.9,213.5 475.6,212.3 476.3,203.7 476.9,190.9 477.6,203.7 478.2,201.8 478.9,211.4 479.5,209.0 480.2,211.6 480.9,211.0 481.5,209.1 482.2,204.9 482.8,210.2 483.5,213.2 484.2,212.1 484.8,209.8 485.5,209.2 486.1,209.2 486.8,212.8 487.5,209.8 488.1,209.1 488.8,207.8 489.4,202.3 490.1,213.7 490.8,202.5 491.4,208.9 492.1,213.8 492.7,204.2 493.4,213.0 494.1,204.8 494.7,210.6 495.4,208.8 496.0,207.8 496.7,209.8 497.4,203.7 498.0,210.4 498.7,212.3 499.3,210.6 500.0,204.4 500.7,208.4 501.3,214.2 502.0,204.9 502.6,212.5 503.3,211.9 504.0,210.4 504.6,207.1 505.3,214.1 505.9,213.9 506.6,211.0 507.2,213.3 507.9,209.9 508.6,209.0 509.2,209.3 509.9,211.8 510.5,204.9 511.2,213.2 511.9,213.0 512.5,211.1 513.2,211.1 513.8,212.5 514.5,210.7 515.2,210.8 515.8,212.3 516.5,203.1 517.1,182.9 517.8,203.1 518.5,211.0 519.1,213.0 519.8,209.2 520.4,211.7 521.1,206.0 521.8,213.3 522.4,207.4 523.1,211.1 523.7,209.2 524.4,210.6 525.1,209.7 525.7,209.8 526.4,213.3 527.0,197.9 527.7,206.8 528.4,208.5 529.0,213.3 529.7,211.8 530.3,210.8 531.0,213.3 531.7,209.8 532.3,210.0 533.0,210.3 533.6,211.4 534.3,214.4 534.9,207.2 535.6,213.7 536.3,207.3 536.9,208.9 537.6,209.5 538.2,214.9 538.9,210.2 539.6,202.5 540.2,212.5 540.9,211.5 541.5,213.0 542.2,215.0 542.9,213.0 543.5,213.2 544.2,211.5 544.8,211.5 545.5,213.9 546.2,211.7 546.8,213.1 547.5,214.1 548.1,212.8 548.8,214.2 549.5,213.0 550.1,213.7 550.8,210.5 551.4,213.0 552.1,212.1 552.8,212.2 553.4,214.7 554.1,212.9 554.7,210.5 555.4,211.2 556.1,214.6 556.7,213.5 557.4,211.8 558.0,213.3 558.7,212.9 559.3,213.1 560.0,214.8 560.7,211.9 561.3,209.0 562.0,214.4 562.6,213.2 563.3,211.4 564.0,210.6 564.6,214.1 565.3,212.6 565.9,198.8 566.6,212.4 567.3,211.7 567.9,213.3 568.6,212.4 569.2,214.1 569.9,212.8 570.6,214.6 571.2,214.7 571.9,211.5 572.5,214.3 573.2,214.7 573.9,214.7 574.5,211.1 575.2,212.7 575.8,211.6 576.5,211.7 577.2,214.5 577.8,213.0 578.5,215.3 579.1,213.9 579.8,214.7 580.5,213.2 581.1,210.8 581.8,214.2 582.4,214.8 583.1,212.9 583.8,213.7 584.4,214.8 585.1,214.1 585.7,215.3 586.4,212.5 587.0,215.2 587.7,213.2 588.4,213.7 589.0,215.4 589.7,214.3 590.3,213.4 591.0,212.8 591.7,212.0 592.3,214.6 593.0,214.8 593.6,214.9 594.3,214.2 595.0,214.0 595.6,212.1 596.3,214.3 596.9,214.7 597.6,215.0 598.3,213.9 598.9,214.0 599.6,211.3 600.2,212.9 600.9,214.6 601.6,214.8 602.2,213.9 602.9,212.8 603.5,213.6 604.2,214.3 604.9,213.5 605.5,214.7 606.2,213.2 606.8,214.2 607.5,213.8 608.2,214.7 608.8,214.9 609.5,213.8 610.1,215.0 610.8,211.2 611.5,214.5 612.1,215.2 612.8,214.6 613.4,212.8 614.1,212.0 614.7,210.9 615.4,211.4 616.1,215.5 616.7,213.4 617.4,214.5 618.0,215.0 618.7,214.9 619.4,213.4 620.0,214.9 620.7,213.7 621.3,214.0 622.0,212.0 622.7,214.1 623.3,214.0 624.0,214.4 624.6,215.6 625.3,214.5 626.0,215.4 626.6,214.8 627.3,215.1 627.9,214.7 628.6,213.9 629.3,214.0 629.9,215.1 630.6,214.2 631.2,214.7 631.9,215.6 632.6,214.9 633.2,214.6 633.9,214.6 634.5,215.5 635.2,214.3 635.9,214.4 636.5,215.1 637.2,214.8 637.8,213.5 638.5,213.9 639.1,212.1 639.8,215.0 640.5,215.6 641.1,213.5 641.8,214.9 642.4,213.9 643.1,215.4 643.8,215.3 644.4,215.6 645.1,215.1 645.7,215.5 646.4,214.6 647.1,214.7 647.7,214.9 648.4,215.3 649.0,214.7 649.7,214.0 650.4,214.8 651.0,215.2 651.7,215.7 652.3,214.8 653.0,215.4 653.7,214.3 654.3,215.7 655.0,215.5 655.6,215.5 656.3,215.2 657.0,213.8 657.6,213.3 658.3,213.8 658.9,214.3 659.6,214.4 660.3,215.1 660.9,215.2 661.6,215.5 662.2,215.8 662.9,215.3 663.6,215.6 664.2,215.7 664.9,215.5 665.5,214.0 666.2,213.8 666.8,214.3 667.5,215.6 668.2,215.3 668.8,212.7 669.5,215.3 670.1,214.5 670.8,215.0 671.5,214.3 672.1,214.5 672.8,214.7 673.4,214.3 674.1,214.9 674.8,214.2 675.4,214.3 676.1,215.5 676.7,214.9 677.4,214.5 678.1,215.7 678.7,214.4 679.4,215.6 680.0,214.6 680.7,215.3 681.4,215.6 682.0,213.9 682.7,214.9 683.3,213.5 684.0,213.8 684.7,213.1 685.3,214.9 686.0,215.7 686.6,214.5 687.3,215.1 688.0,213.0 688.6,215.7 689.3,214.8 689.9,213.8 690.6,215.3 691.3,214.7 691.9,214.1 692.6,215.0 693.2,215.2 693.9,214.6 694.5,214.1 695.2,213.3 695.9,215.6 696.5,215.4 697.2,214.6 697.8,214.3 698.5,214.0 699.2,214.1 699.8,214.4 700.5,215.9 701.1,215.7 701.8,215.2 702.5,215.7 703.1,215.7 703.8,214.5 704.4,215.6 705.1,215.9" fill="none" stroke="#1010f8" stroke-width="1.1" stroke-linejoin="miter"/>
<path d="M424.2 29.3 V225.2" stroke="#111" stroke-width="1.7" fill="none"/>
<path d="M423.6 217.6 H705.8" stroke="#111" stroke-width="1.7" fill="none"/>
<line x1="416.5" y1="217.6" x2="424.4" y2="217.6" stroke="#111" stroke-width="1.7"/>
<text x="414.4" y="222.1" font-size="13" class="b" text-anchor="end" fill="#111">0</text>
<line x1="416.5" y1="169.9" x2="424.4" y2="169.9" stroke="#111" stroke-width="1.7"/>
<text x="414.4" y="174.6" font-size="13" class="b" text-anchor="end" fill="#111">1</text>
<line x1="416.5" y1="123.3" x2="424.4" y2="123.3" stroke="#111" stroke-width="1.7"/>
<text x="414.4" y="128.0" font-size="13" class="b" text-anchor="end" fill="#111">2</text>
<line x1="416.5" y1="76.69999999999999" x2="424.4" y2="76.69999999999999" stroke="#111" stroke-width="1.7"/>
<text x="414.4" y="81.39999999999999" font-size="13" class="b" text-anchor="end" fill="#111">3</text>
<line x1="416.5" y1="30.099999999999994" x2="424.4" y2="30.099999999999994" stroke="#111" stroke-width="1.7"/>
<text x="414.4" y="34.8" font-size="13" class="b" text-anchor="end" fill="#111">4</text>
<line x1="454.9" y1="217.6" x2="454.9" y2="225.2" stroke="#111" stroke-width="1.7"/>
<line x1="482.7" y1="217.6" x2="482.7" y2="225.2" stroke="#111" stroke-width="1.7"/>
<line x1="510.5" y1="217.6" x2="510.5" y2="225.2" stroke="#111" stroke-width="1.7"/>
<line x1="538.3" y1="217.6" x2="538.3" y2="225.2" stroke="#111" stroke-width="1.7"/>
<line x1="566.1" y1="217.6" x2="566.1" y2="225.2" stroke="#111" stroke-width="1.7"/>
<line x1="593.9" y1="217.6" x2="593.9" y2="225.2" stroke="#111" stroke-width="1.7"/>
<line x1="621.7" y1="217.6" x2="621.7" y2="225.2" stroke="#111" stroke-width="1.7"/>
<line x1="649.5" y1="217.6" x2="649.5" y2="225.2" stroke="#111" stroke-width="1.7"/>
<line x1="677.3" y1="217.6" x2="677.3" y2="225.2" stroke="#111" stroke-width="1.7"/>
<line x1="705.1" y1="217.6" x2="705.1" y2="225.2" stroke="#111" stroke-width="1.7"/>
<text x="427.5" y="241.7" font-size="12.8" text-anchor="middle" fill="#1a1a1a">0</text>
<text x="455.3" y="241.7" font-size="12.8" text-anchor="middle" fill="#1a1a1a">0.2</text>
<text x="483.1" y="241.7" font-size="12.8" text-anchor="middle" fill="#1a1a1a">0.4</text>
<text x="510.9" y="241.7" font-size="12.8" text-anchor="middle" fill="#1a1a1a">0.6</text>
<text x="538.7" y="241.7" font-size="12.8" text-anchor="middle" fill="#1a1a1a">0.8</text>
<text x="566.5" y="241.7" font-size="12.8" text-anchor="middle" fill="#1a1a1a">1</text>
<text x="594.3" y="241.7" font-size="12.8" text-anchor="middle" fill="#1a1a1a">1.2</text>
<text x="622.1" y="241.7" font-size="12.8" text-anchor="middle" fill="#1a1a1a">1.4</text>
<text x="649.9" y="241.7" font-size="12.8" text-anchor="middle" fill="#1a1a1a">1.6</text>
<text x="677.7" y="241.7" font-size="12.8" text-anchor="middle" fill="#1a1a1a">1.8</text>
<text x="705.5" y="241.7" font-size="12.8" text-anchor="middle" fill="#1a1a1a">2</text>
<text x="564.2" y="262.3" font-size="13.6" class="b" text-anchor="middle" fill="#111">Frequency(Hz)</text>
<text transform="translate(396.3 126) rotate(-90)" font-size="13.9" class="b" text-anchor="middle" fill="#111">FFT Power (a.u)</text>
<path d="M429.8 94 V85.2 H441.4 V94" fill="none" stroke="#2a2a2a" stroke-width="1"/>
<path d="M470.4 77.8 V69 H482 V77.8" fill="none" stroke="#2a2a2a" stroke-width="1"/>
<path d="M608 199 V190.8 H619.6 V199" fill="none" stroke="#2a2a2a" stroke-width="1"/>
<text transform="translate(441.3 80.3) rotate(-90)" font-size="11.8" class="b" fill="#111">VLF BAND</text>
<text x="485.8" y="79.4" font-size="11.85" class="b" fill="#111">RESP BAND</text>
<text x="583.8" y="183" font-size="11.85" class="b" fill="#111">CARD BAND</text>
<line x1="626.4" y1="59.7" x2="646.3" y2="59.7" stroke="#22cc22" stroke-width="1"/>
<text x="657.6" y="64.5" font-size="14" fill="#111" letter-spacing="-0.1">3mm</text>
<line x1="626.4" y1="82.4" x2="646.3" y2="82.4" stroke="#f52222" stroke-width="1"/>
<text x="657.6" y="87.2" font-size="14" fill="#111" letter-spacing="-0.1">4mm</text>
<line x1="626.4" y1="105.5" x2="646.3" y2="105.5" stroke="#2222f5" stroke-width="1"/>
<text x="657.6" y="110.3" font-size="14" fill="#111" letter-spacing="-0.1">5mm</text>
<line x1="428" y1="507" x2="706" y2="507" stroke="#222" stroke-width="1.3" stroke-dasharray="1.3 2.6"/>
<path d="M443.5 397.1 V416.1 M443.5 471.2 V494.4 M439.1 397.1 H447.9 M439.1 494.4 H447.9" stroke="#1fc01f" stroke-width="2" fill="none"/>
<rect x="435.2" y="416.1" width="16.6" height="55.099999999999966" fill="#fff" stroke="#1fc01f" stroke-width="2"/>
<line x1="435.2" y1="461.4" x2="451.8" y2="461.4" stroke="#1fc01f" stroke-width="2"/>
<path d="M465.3 404.4 V449.6 M465.3 488.6 V497.3 M460.90000000000003 404.4 H469.7 M460.90000000000003 497.3 H469.7" stroke="#f01818" stroke-width="2" fill="none"/>
<rect x="457.0" y="449.6" width="16.6" height="39.0" fill="#fff" stroke="#f01818" stroke-width="2"/>
<line x1="457.0" y1="481.8" x2="473.6" y2="481.8" stroke="#f01818" stroke-width="2"/>
<path d="M487 444 V475 M487 497.3 V501 M482.6 444 H491.4 M482.6 501 H491.4" stroke="#1818f0" stroke-width="2" fill="none"/>
<rect x="478.7" y="475" width="16.6" height="22.30000000000001" fill="#fff" stroke="#1818f0" stroke-width="2"/>
<line x1="478.7" y1="487.6" x2="495.3" y2="487.6" stroke="#1818f0" stroke-width="2"/>
<path d="M545.3 392.1 V450.8 M545.3 490 V495.5 M540.9 392.1 H549.6999999999999 M540.9 495.5 H549.6999999999999" stroke="#1fc01f" stroke-width="2" fill="none"/>
<rect x="537.0" y="450.8" width="16.6" height="39.19999999999999" fill="#fff" stroke="#1fc01f" stroke-width="2"/>
<line x1="537.0" y1="472.8" x2="553.5999999999999" y2="472.8" stroke="#1fc01f" stroke-width="2"/>
<path d="M567 433.2 V466.3 M567 496.1 V501.7 M562.6 433.2 H571.4 M562.6 501.7 H571.4" stroke="#f01818" stroke-width="2" fill="none"/>
<rect x="558.7" y="466.3" width="16.6" height="29.80000000000001" fill="#fff" stroke="#f01818" stroke-width="2"/>
<line x1="558.7" y1="474.6" x2="575.3" y2="474.6" stroke="#f01818" stroke-width="2"/>
<path d="M588.7 412.2 V461.6 M588.7 491.2 V499.6 M584.3000000000001 412.2 H593.1 M584.3000000000001 499.6 H593.1" stroke="#1818f0" stroke-width="2" fill="none"/>
<rect x="580.4000000000001" y="461.6" width="16.6" height="29.599999999999966" fill="#fff" stroke="#1818f0" stroke-width="2"/>
<line x1="580.4000000000001" y1="476.9" x2="597.0" y2="476.9" stroke="#1818f0" stroke-width="2"/>
<path d="M647.4 473.1 V493.6 M647.4 500.8 V503.5 M643.0 473.1 H651.8 M643.0 503.5 H651.8" stroke="#1fc01f" stroke-width="2" fill="none"/>
<rect x="639.1" y="493.6" width="16.6" height="7.199999999999989" fill="#fff" stroke="#1fc01f" stroke-width="2"/>
<line x1="639.1" y1="499.8" x2="655.6999999999999" y2="499.8" stroke="#1fc01f" stroke-width="2"/>
<path d="M669 486 V498.5 M669 501.2 V505 M664.6 486 H673.4 M664.6 505 H673.4" stroke="#f01818" stroke-width="2" fill="none"/>
<rect x="660.7" y="498.5" width="16.6" height="2.6999999999999886" fill="#fff" stroke="#f01818" stroke-width="2"/>
<line x1="660.7" y1="500" x2="677.3" y2="500" stroke="#f01818" stroke-width="2"/>
<path d="M691 486 V499.5 M691 502.2 V505.5 M686.6 486 H695.4 M686.6 505.5 H695.4" stroke="#1818f0" stroke-width="2" fill="none"/>
<rect x="682.7" y="499.5" width="16.6" height="2.6999999999999886" fill="#fff" stroke="#1818f0" stroke-width="2"/>
<line x1="682.7" y1="501" x2="699.3" y2="501" stroke="#1818f0" stroke-width="2"/>
<path d="M424.4 330 V522" stroke="#111" stroke-width="1.9" fill="none"/>
<path d="M423.5 521.1 H706.2" stroke="#111" stroke-width="1.9" fill="none"/>
<line x1="417.5" y1="507.0" x2="424.5" y2="507.0" stroke="#111" stroke-width="1.9"/>
<text x="415.3" y="511.1" font-size="11" class="b" text-anchor="end" fill="#111">0</text>
<line x1="417.5" y1="448.5" x2="424.5" y2="448.5" stroke="#111" stroke-width="1.9"/>
<text x="415.3" y="452.6" font-size="11" class="b" text-anchor="end" fill="#111">20</text>
<line x1="417.5" y1="390.0" x2="424.5" y2="390.0" stroke="#111" stroke-width="1.9"/>
<text x="415.3" y="394.1" font-size="11" class="b" text-anchor="end" fill="#111">40</text>
<line x1="417.5" y1="331.5" x2="424.5" y2="331.5" stroke="#111" stroke-width="1.9"/>
<text x="415.3" y="335.6" font-size="11" class="b" text-anchor="end" fill="#111">60</text>
<line x1="465.3" y1="521.1" x2="465.3" y2="527.5" stroke="#111" stroke-width="1.9"/>
<text x="465.3" y="540" font-size="11" class="b" text-anchor="middle" fill="#111">VLF</text>
<line x1="567" y1="521.1" x2="567" y2="527.5" stroke="#111" stroke-width="1.9"/>
<text x="567" y="540" font-size="11" class="b" text-anchor="middle" fill="#111">RESP</text>
<line x1="668.7" y1="521.1" x2="668.7" y2="527.5" stroke="#111" stroke-width="1.9"/>
<text x="668.7" y="540" font-size="11" class="b" text-anchor="middle" fill="#111">CARD</text>
<text transform="translate(395.9 419.2) rotate(-90)" font-size="14.2" class="b" text-anchor="middle" fill="#111">FFT Power (a.u)</text>
<rect x="501.4" y="298.2" width="14.2" height="6.6" fill="#fff" stroke="#1fc01f" stroke-width="2"/>
<text x="525.6" y="305.9" font-size="11.8" fill="#111">3mm</text>
<rect x="562.8" y="298.2" width="14.2" height="6.6" fill="#fff" stroke="#f01818" stroke-width="2"/>
<text x="586.4" y="305.9" font-size="11.8" fill="#111">4mm</text>
<rect x="623.4" y="298.2" width="14.2" height="6.6" fill="#fff" stroke="#1818f0" stroke-width="2"/>
<text x="647.5" y="305.9" font-size="11.8" fill="#111">5mm</text>
<path d="M443.4 336.2 V343.6 M443.4 340.1 H487.6 M487.6 336.2 V343.6" stroke="#707070" stroke-width="1.1" fill="none"/>
<text x="464.4" y="340.4" font-size="16" class="b" text-anchor="middle" fill="#111">*</text>
<path d="M443.4 369.4 V359.6 H487.2 V436.4" stroke="#1a1a1a" stroke-width="0.9" fill="none"/>
<text x="464.3" y="360.4" font-size="16" class="b" text-anchor="middle" fill="#111">*</text>
<path d="M443.4 392.7 V386 H465.3 V400" stroke="#666" stroke-width="0.9" fill="none"/>
<text x="453.8" y="383.6" font-size="10.6" text-anchor="middle" fill="#222">0.3</text>
</svg></body></html>
